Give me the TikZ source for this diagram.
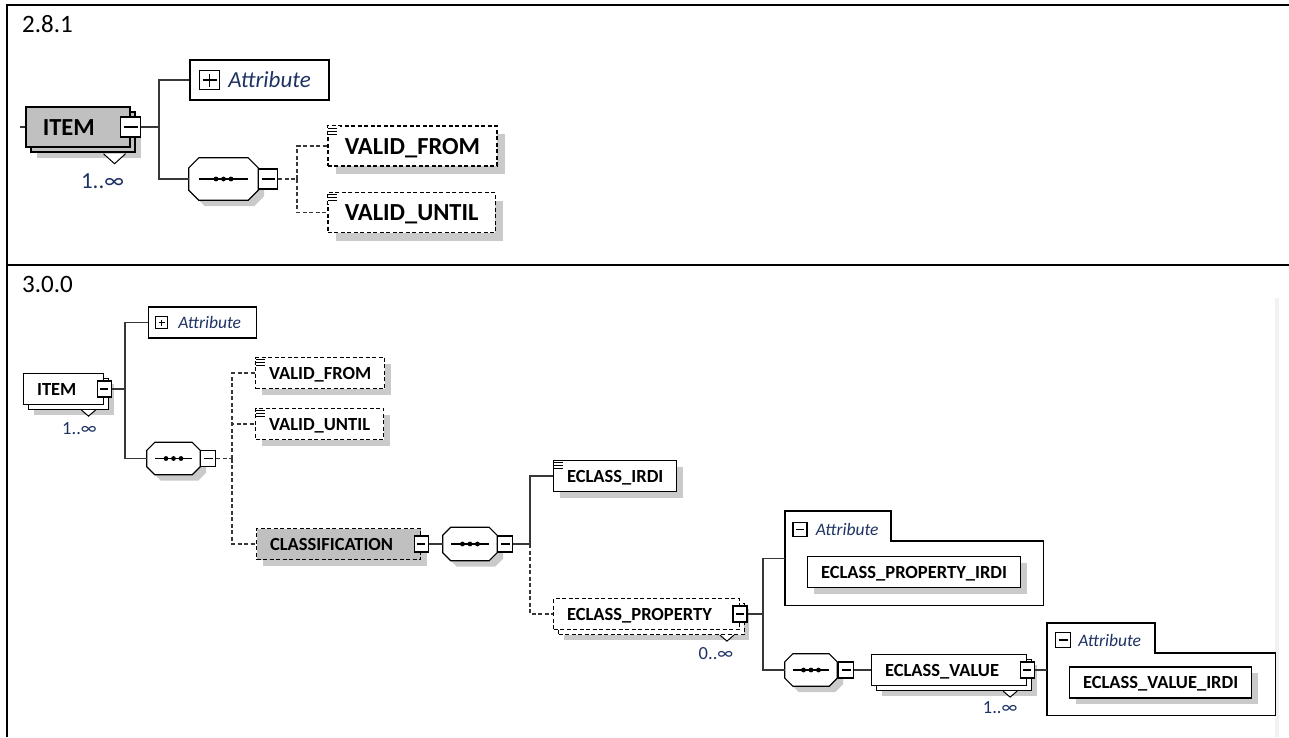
\documentclass[tikz,border=0pt]{standalone}
\usepackage{fontspec}
\setmainfont{Carlito}
\usepackage{tikz}
\usetikzlibrary{positioning}
\definecolor{elemgray}{RGB}{192,192,192}
\definecolor{shadowgray}{RGB}{202,202,202}
\definecolor{attrblue}{RGB}{30,50,100}
\definecolor{linegray}{RGB}{55,55,55}
\tikzset{
    elem/.style = {draw, fill=white, line width=1.2pt, font=\fontsize{18.5}{22}\selectfont\bfseries, inner xsep=13.5pt, inner ysep=0pt, minimum height=31pt, text height=12pt, text depth=0pt, anchor=west},
    bigelem/.style = {elem, font=\fontsize{24.5}{28}\selectfont\bfseries, inner xsep=17pt, minimum height=40pt, text height=16pt, line width=1.5pt},
    optional/.style = {dash pattern=on 4pt off 2.5pt},
    shadowed/.style = {preaction={fill=shadowgray, draw=none, transform canvas={shift={(#1,-#1)}}}},
    shadowed/.default = 6pt,
    stacked/.style = {preaction={draw, fill=white, #1, transform canvas={shift={(5pt,-5pt)}}}},
    stacked/.default = solid,
    hasminus/.style = {execute at end node={\hspace*{#1}}},
    hasminus/.default = 14pt,
    minus/.style = {draw, fill=white, solid, line width=1.1pt, inner sep=0pt, minimum width=14pt, minimum height=16pt,
        path picture={\draw[line width=1.1pt] ([xshift=3pt]path picture bounding box.west) -- ([xshift=-3pt]path picture bounding box.east);}},
    plus/.style = {minus, path picture={\draw[line width=1.1pt] ([xshift=3pt]path picture bounding box.west) -- ([xshift=-3pt]path picture bounding box.east)
        ([yshift=-3pt]path picture bounding box.north) -- ([yshift=3pt]path picture bounding box.south);}},
    leaf/.style = {fill=white, inner sep=0pt, minimum width=10pt, minimum height=9pt, anchor=north west,
        path picture={\foreach \k in {1.5,4.5,7.5} \draw[line width=0.9pt] ([yshift=-\k pt]path picture bounding box.north west) -- ++(9pt,0);}},
    seq/.style = {inner sep=0pt, append after command={\pgfextra{\drawseq{\tikzlastnode}{#1}}}},
    seq/.default = 8pt,
    attrbox/.style = {draw, line width=1.2pt, inner sep=0pt, anchor=west},
    attrtext/.style = {inner sep=0pt, text=attrblue, font=\fontsize{17.5}{20}\selectfont\itshape},
    grp/.style = {inner sep=0pt, anchor=north west},
    grpline/.style = {draw, line width=1.2pt},
    mult/.style = {inner sep=0pt, text=attrblue, font=\fontsize{18.5}{20}\selectfont},
    notch/.style = {draw, fill=white, solid, line width=1pt},
    conn/.style = {draw=linegray, line width=1.3pt},
    optconn/.style = {conn, optional},
    frame/.style = {line width=2.2pt},
    title/.style = {inner sep=0pt, anchor=base west, font=\fontsize{25}{28}\selectfont},
}
% octagon of a sequence compositor, drawn round an empty node
\newcommand{\drawseq}[2]{%
    \filldraw[fill=white, line width=1.2pt, preaction={fill=shadowgray, draw=none, transform canvas={shift={(6pt,-6pt)}}}]
        ([xshift=#2]#1.north west) -- ([xshift=-#2]#1.north east) -- ([yshift=-#2]#1.north east) -- ([yshift=#2]#1.south east)
        -- ([xshift=-#2]#1.south east) -- ([xshift=#2]#1.south west) -- ([yshift=#2]#1.south west) -- ([yshift=-#2]#1.north west) -- cycle;
    \draw[line width=1.2pt] ([xshift=#2]#1.west) -- ([xshift=-#2]#1.east);
    \foreach \d in {-7.5,0,7.5} \fill ([xshift=\d pt]#1.center) circle (2.4pt);
}

\begin{document}
\begin{tikzpicture}[x=1pt, y=-1pt]
\useasboundingbox (0,0) rectangle (1289,737);

% table frame
\draw[frame] (7,5) -- (1289,5);
\draw[frame] (7,4) -- (7,737);
\draw[frame] (7,265) -- (1289,265);
\fill[black!5] (1275,298) rectangle (1279,737);
\node[title] (v281) at (22,32) {2.8.1};
\node[title] (v300) at (22,292) {3.0.0};

% 2.8.1
\coordinate (in1) at (20,127);
\node[bigelem, fill=elemgray, shadowed=11pt, stacked={fill=elemgray}, hasminus=18pt] (item1) at (25,127) {ITEM};
\node[minus, minimum width=20pt, minimum height=20pt] (item1m) at (item1.east) {};
\draw[notch] ([xshift=-27pt,yshift=-6pt]item1.south east) -- ++(11,10) -- ++(11,-10);
\node[mult, font=\fontsize{23}{26}\selectfont] (item1n) at ([xshift=-28pt,yshift=-33pt]item1.south east) {1..∞};
\coordinate (tr1) at (159,127);
\node[attrbox, minimum width=139pt, minimum height=40pt, line width=1.5pt] (attr1) at (189,80) {};
\node[plus, minimum width=20pt, minimum height=19pt, right=10pt of attr1.west] (attr1p) {};
\node[attrtext, font=\fontsize{23}{26}\selectfont\itshape, right=8pt of attr1p] (attr1t) {Attribute};
\node[seq=10pt, minimum width=69pt, minimum height=42pt] (seq1) at (223.5,179) {};
\node[minus, minimum width=19pt, minimum height=20pt, right=0pt of seq1] (seq1m) {};
\coordinate (tr1b) at (297,179);
\node[bigelem, optional, shadowed=8pt] (vf1) at (327,146) {VALID\_FROM};
\node[leaf, minimum width=12pt, minimum height=11pt] (vf1i) at ([xshift=1pt,yshift=-1pt]vf1.north west) {};
\node[bigelem, optional, shadowed=8pt] (vu1) at (327,212.5) {VALID\_UNTIL};
\node[leaf, minimum width=12pt, minimum height=11pt] (vu1i) at ([xshift=1pt,yshift=-1pt]vu1.north west) {};

\draw[conn] (in1) -- (item1);
\draw[conn] (item1m) -- (tr1) (tr1) |- (attr1) (tr1) |- (seq1);
\draw[optconn] (seq1m) -- (tr1b) (tr1b) |- (vf1) (tr1b) |- (vu1);

% 3.0.0
\node[elem, shadowed=10pt, stacked, hasminus] (item2) at (23,389) {ITEM};
\node[minus] (item2m) at (item2.east) {};
\draw[notch] ([xshift=-23pt,yshift=-5pt]item2.south east) -- ++(7,6) -- ++(7,-6);
\node[mult] (item2n) at ([xshift=-25pt,yshift=-24pt]item2.south east) {1..∞};
\coordinate (tr2) at (125,389);
\node[attrbox, minimum width=108pt, minimum height=31pt] (attr2) at (148,322.5) {};
\node[plus, minimum width=12pt, minimum height=12pt, right=7pt of attr2.west] (attr2p) {};
\node[attrtext, right=10pt of attr2p] (attr2t) {Attribute};
\node[seq, minimum width=53pt, minimum height=32pt] (seq2) at (173.5,458.5) {};
\node[minus, minimum width=15pt, right=0pt of seq2] (seq2m) {};
\coordinate (tr2b) at (232,458.5);
\node[elem, optional, shadowed] (vf2) at (255,373) {VALID\_FROM};
\node[leaf] (vf2i) at ([xshift=1pt,yshift=-1pt]vf2.north west) {};
\node[elem, optional, shadowed] (vu2) at (255,424) {VALID\_UNTIL};
\node[leaf] (vu2i) at ([xshift=1pt,yshift=-1pt]vu2.north west) {};
\node[elem, optional, fill=elemgray, shadowed, hasminus] (cls) at (256,544) {CLASSIFICATION};
\node[minus] (clsm) at (cls.east) {};
\node[seq, minimum width=54pt, minimum height=33pt, right=14pt of clsm] (seq3) {};
\node[minus, minimum width=15pt, right=0pt of seq3] (seq3m) {};
\coordinate (tr3) at (530,544);
\node[elem, shadowed] (eci) at (553,476) {ECLASS\_IRDI};
\node[leaf] (ecii) at ([xshift=1pt,yshift=-1pt]eci.north west) {};
\node[elem, optional, shadowed=10pt, stacked={optional}, hasminus] (ecp) at (553,614) {ECLASS\_PROPERTY};
\node[minus] (ecpm) at (ecp.east) {};
\draw[notch] ([xshift=-20pt,yshift=-5pt]ecp.south east) -- ++(7,6) -- ++(7,-6);
\node[mult] (ecpn) at ([xshift=-24pt,yshift=-23pt]ecp.south east) {0..∞};
\coordinate (ptr) at (763,614);

\node[grp, minimum width=258pt, minimum height=94pt] (pgrp) at (785,511) {};
\draw[grpline] (pgrp.north west) -- ++(106,0) |- ([yshift=-30pt]pgrp.north east) |- (pgrp.south west) -- cycle;
\node[minus, minimum width=14pt, minimum height=14pt] (pgrpm) at (800,529.5) {};
\node[attrtext, right=8pt of pgrpm] (pgrpt) {Attribute};
\node[elem, shadowed] (epi) at (807,572) {ECLASS\_PROPERTY\_IRDI};

\node[seq, minimum width=52pt, minimum height=32pt] (seq4) at (811,670) {};
\node[minus, minimum width=15pt, right=1pt of seq4] (seq4m) {};
\node[elem, shadowed=10pt, stacked, hasminus] (ecv) at (871,670) {ECLASS\_VALUE};
\node[minus] (ecvm) at (ecv.east) {};
\draw[notch] ([xshift=-24pt,yshift=-5pt]ecv.south east) -- ++(7,6) -- ++(7,-6);
\node[mult] (ecvn) at ([xshift=-27pt,yshift=-22pt]ecv.south east) {1..∞};

\node[grp, minimum width=228pt, minimum height=92pt] (vgrp) at (1047,623) {};
\draw[grpline] (vgrp.north west) -- ++(108,0) |- ([yshift=-30pt]vgrp.north east) |- (vgrp.south west) -- cycle;
\node[minus, minimum width=15pt, minimum height=15pt] (vgrpm) at (1063,640) {};
\node[attrtext, right=7pt of vgrpm] (vgrpt) {Attribute};
\node[elem, shadowed] (evi) at (1069,682.5) {ECLASS\_VALUE\_IRDI};

\draw[conn] (item2m) -- (tr2) (tr2) |- (attr2) (tr2) |- (seq2);
\draw[optconn] (seq2m) -- (tr2b) (tr2b) |- (vf2) (tr2b) |- (vu2) (tr2b) |- (cls);
\draw[conn] (clsm) -- (seq3);
\draw[conn] (seq3m) -- (tr3) (tr3) |- (eci);
\draw[optconn] (tr3) |- (ecp);
\draw[conn] (ecpm) -- (ptr) (ptr) |- (pgrp) (ptr) |- (seq4);
\draw[conn] (seq4m) -- (ecv);
\draw[conn] (ecvm) -- (ecvm -| vgrp.west);
\end{tikzpicture}
\end{document}
